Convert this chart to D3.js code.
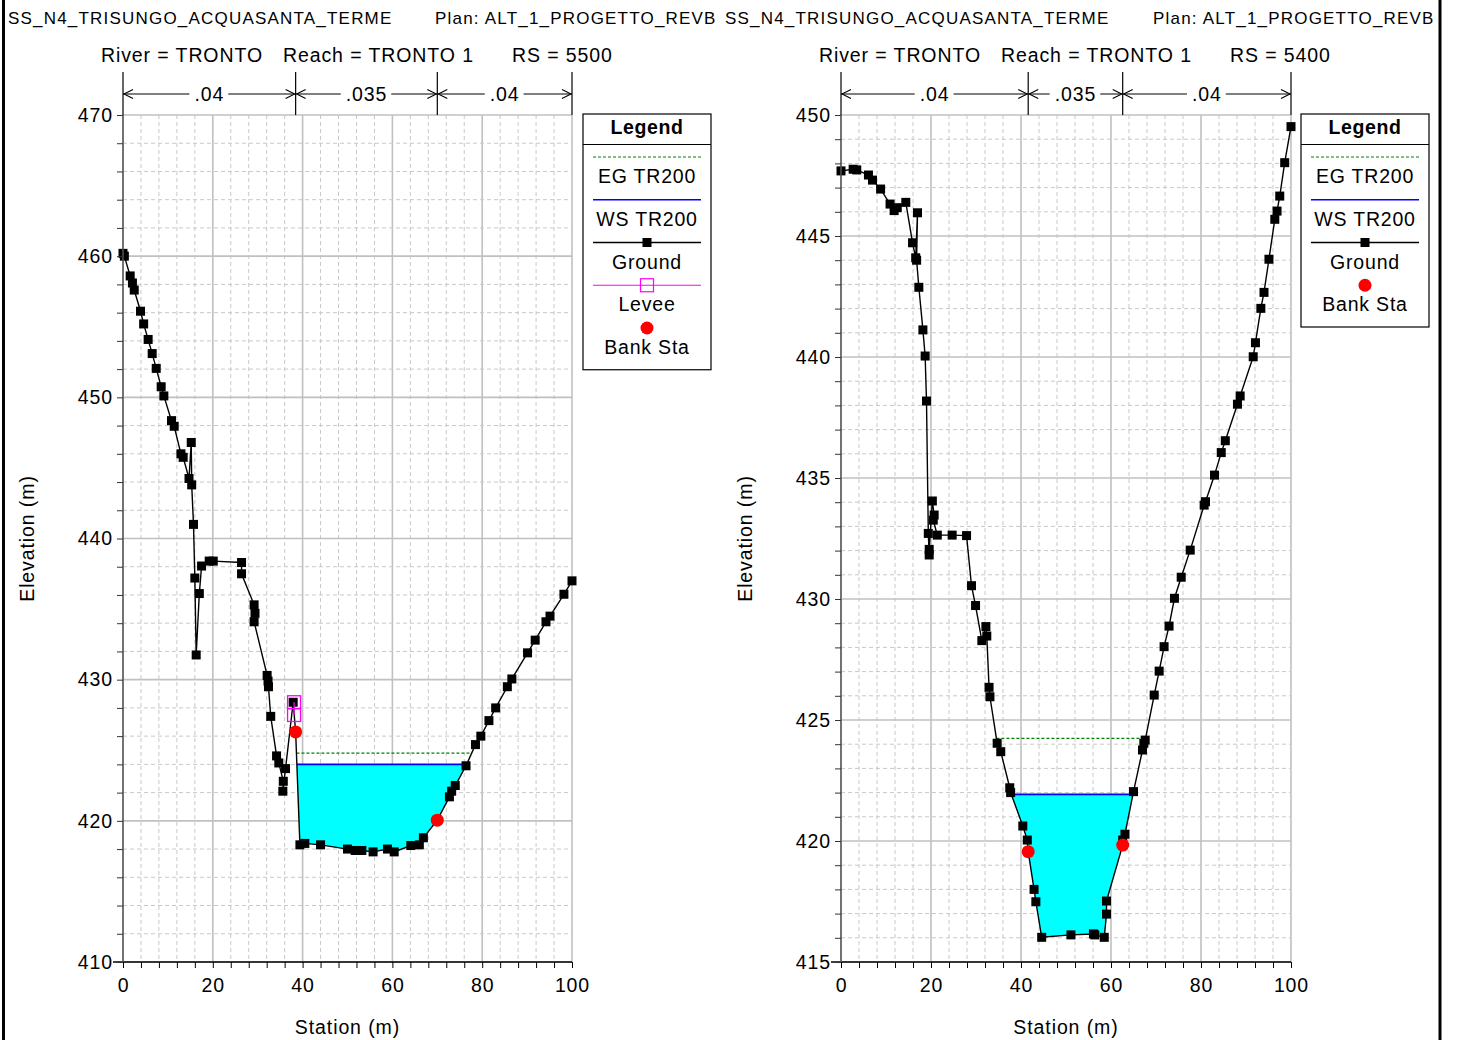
<!DOCTYPE html>
<html>
<head>
<meta charset="utf-8">
<script src="https://cdn.jsdelivr.net/npm/d3@7"></script>
<style>
  body { margin: 0; background: #fff; }
  svg text { font-family: "Liberation Sans", Arial, sans-serif; fill: #000; }
</style>
</head>
<body>
<svg id="chart" width="1457" height="1040"></svg>
<script>
// ---- Cross-section data (HEC-RAS, river TRONTO, reach TRONTO 1) ----
const projectName = "SS_N4_TRISUNGO_ACQUASANTA_TERME";
const planName = "Plan: ALT_1_PROGETTO_REVB";
const riverLabel = "River = TRONTO";
const reachLabel = "Reach = TRONTO 1";
const rsLabels = ["RS = 5500", "RS = 5400"];
const manningN = [".04", ".035", ".04"];
const stationTicks = [0, 20, 40, 60, 80, 100];
const elevTicks5500 = [410, 420, 430, 440, 450, 460, 470];
const elevTicks5400 = [415, 420, 425, 430, 435, 440, 445, 450];

// ground points [station, elevation]
const ground5500 = [
  [0.0,460.2],[0.3,460.0],[1.6,458.6],[2.1,458.1],[2.5,457.6],[3.9,456.1],[4.6,455.2],
  [5.6,454.1],[6.5,453.1],[7.4,452.05],[8.5,450.75],[9.1,450.1],[10.8,448.35],[11.4,447.95],
  [12.9,446.0],[13.4,445.75],[14.7,444.25],[15.2,446.8],[15.3,443.8],[15.7,441.0],[16.0,437.2],
  [16.3,431.75],[17.0,436.1],[17.5,438.05],[19.2,438.4],[20.1,438.4],[26.4,438.3],[26.4,437.5],
  [29.2,435.3],[29.4,434.7],[29.2,434.1],[32.1,430.3],[32.3,429.9],[32.4,429.5],[32.9,427.4],
  [34.2,424.6],[34.7,424.1],[35.7,422.8],[35.6,422.1],[36.2,423.7],[37.9,428.4],[38.45,426.3],
  [39.4,418.3],[40.5,418.4],[44.0,418.3],[50.0,418.0],[51.7,417.9],[53.2,417.9],[55.7,417.8],
  [58.9,418.0],[60.4,417.8],[64.1,418.25],[66.0,418.3],[66.9,418.8],[70.0,420.05],[72.7,421.7],
  [73.2,422.1],[74.0,422.5],[76.4,423.9],[78.5,425.4],[79.7,426.0],[81.5,427.1],[83.0,428.0],
  [85.6,429.5],[86.6,430.05],[90.1,431.9],[91.8,432.8],[94.2,434.1],[95.1,434.5],[98.2,436.05],
  [100.0,437.0]
];
const ground5400 = [
  [0.0,447.69],[2.7,447.76],[3.5,447.73],[6.1,447.52],[7.0,447.31],[8.8,446.94],[10.9,446.32],
  [11.8,446.05],[12.5,446.17],[14.4,446.39],[15.9,444.72],[16.6,444.1],[17.0,445.96],[16.8,444.0],
  [17.3,442.88],[18.2,441.12],[18.7,440.04],[19.0,438.18],[19.4,432.71],[19.6,431.82],[19.6,432.05],
  [20.3,434.05],[20.7,433.47],[20.5,433.26],[21.4,432.64],[24.7,432.64],[27.9,432.62],[29.0,430.55],
  [29.9,429.73],[31.3,428.28],[32.2,428.86],[32.4,428.47],[32.9,426.35],[33.1,425.96],[34.7,424.04],
  [35.5,423.69],[37.5,422.2],[37.7,422.0],[40.4,420.62],[41.4,420.04],[41.6,419.56],[42.9,418.0],
  [43.3,417.49],[44.6,416.02],[51.1,416.12],[56.1,416.16],[56.4,416.12],[58.5,416.02],[59.0,416.98],
  [59.0,417.52],[62.6,419.83],[62.6,420.04],[63.1,420.28],[65.0,422.04],[67.0,423.76],[67.3,424.04],
  [67.6,424.17],[69.6,426.03],[70.7,427.02],[71.8,428.03],[72.9,428.88],[74.1,430.03],[75.6,430.9],
  [77.6,432.02],[80.7,433.88],[81.0,434.02],[83.0,435.12],[84.5,436.05],[85.4,436.54],[88.1,438.05],
  [88.7,438.39],[91.6,440.01],[92.1,440.59],[93.3,442.01],[94.0,442.67],[95.1,444.04],[96.4,445.69],
  [96.9,446.03],[97.5,446.65],[98.6,448.03],[100.0,449.52]
];
const bankSta5500 = [[38.45, 426.3], [70.0, 420.05]];
const bankSta5400 = [[41.6, 419.56], [62.6, 419.83]];
const levee5500 = [[38.1, 428.4], [38.1, 427.5]];
const wsTR200 = [424.0, 421.93];
const egTR200 = [424.8, 424.24];

// ---- Drawing ----
const svg = d3.select("#chart");
const LS = "0.9px";
const FS = "19.5px";

svg.append("rect").attr("width", 1457).attr("height", 1040).attr("fill", "#fff");
// outer frame lines
svg.append("line").attr("x1", 3.5).attr("x2", 3.5).attr("y1", 0).attr("y2", 1040)
  .attr("stroke", "#000").attr("stroke-width", 3);
svg.append("line").attr("x1", 1440).attr("x2", 1440).attr("y1", 0).attr("y2", 1040)
  .attr("stroke", "#000").attr("stroke-width", 3);

const panels = [
  { left: 123, right: 572, top: 115, bottom: 962, yTicks: elevTicks5500, yMinor: 2,
    ground: ground5500, bank: bankSta5500, levee: levee5500, ws: wsTR200[0], eg: egTR200[0],
    rs: rsLabels[0], titleX: 8, planX: 435, riverX: 101, reachX: 283, rsX: 512,
    legendX: 583, yTitleX: 34 },
  { left: 841, right: 1291, top: 115, bottom: 962, yTicks: elevTicks5400, yMinor: 1,
    ground: ground5400, bank: bankSta5400, levee: null, ws: wsTR200[1], eg: egTR200[1],
    rs: rsLabels[1], titleX: 725, planX: 1153, riverX: 819, reachX: 1001, rsX: 1230,
    legendX: 1301, yTitleX: 752 }
];

// where a water level meets the ground on each side of the channel low point
function crossings(ground, level) {
  const iMin = d3.minIndex(ground, d => d[1]);
  let i = iMin;
  while (i > 0 && ground[i - 1][1] < level) i--;
  const a = ground[i - 1], b = ground[i];
  const xl = a[0] + (b[0] - a[0]) * (level - a[1]) / (b[1] - a[1]);
  let j = iMin;
  while (j < ground.length - 1 && ground[j + 1][1] < level) j++;
  const c = ground[j], d = ground[j + 1];
  const xr = c[0] + (d[0] - c[0]) * (level - c[1]) / (d[1] - c[1]);
  return { xl, xr, i, j };
}

function txt(g, x, y, s, size, opts = {}) {
  return g.append("text").attr("x", x).attr("y", y).text(s)
    .attr("font-size", size).attr("letter-spacing", opts.ls || LS)
    .attr("text-anchor", opts.anchor || "start")
    .attr("font-weight", opts.bold ? "bold" : null);
}

panels.forEach(p => {
  const g = svg.append("g");
  const x = d3.scaleLinear().domain([0, 100]).range([p.left, p.right]);
  const yd = d3.extent(p.yTicks);
  const y = d3.scaleLinear().domain(yd).range([p.bottom, p.top]);
  const majorY = p.yTicks[1] - p.yTicks[0];

  // titles
  txt(g, p.titleX, 24, projectName, "17px", { ls: "1.2px" });
  txt(g, p.planX, 24, planName, "17px", { ls: "1.2px" });
  txt(g, p.riverX, 62, riverLabel, FS);
  txt(g, p.reachX, 62, reachLabel, FS);
  txt(g, p.rsX, 62, p.rs, FS);

  // gridlines
  const grid = g.append("g");
  d3.range(0, 100.001, 4).forEach(v => {
    const major = Math.abs(v % 20) < 1e-6;
    grid.append("line").attr("x1", x(v)).attr("x2", x(v)).attr("y1", p.top).attr("y2", p.bottom)
      .attr("stroke", major ? "#c0c0c0" : "#c8c8c8").attr("stroke-width", major ? 1.6 : 1)
      .attr("stroke-dasharray", major ? null : "4,3");
  });
  d3.range(yd[0], yd[1] + 0.001, p.yMinor).forEach(v => {
    const major = Math.abs((v - yd[0]) % majorY) < 1e-6;
    grid.append("line").attr("x1", p.left).attr("x2", p.right).attr("y1", y(v)).attr("y2", y(v))
      .attr("stroke", major ? "#c0c0c0" : "#c8c8c8").attr("stroke-width", major ? 1.6 : 1)
      .attr("stroke-dasharray", major ? null : "4,3");
  });

  // water surface fill between ground crossings
  const w = crossings(p.ground, p.ws);
  const poly = [[w.xl, p.ws], ...p.ground.slice(w.i, w.j + 1), [w.xr, p.ws]];
  g.append("path").attr("d", d3.line().x(d => x(d[0])).y(d => y(d[1]))(poly) + "Z")
    .attr("fill", "#00ffff").attr("stroke", "none");

  // energy grade line
  const e = crossings(p.ground, p.eg);
  g.append("line").attr("x1", x(e.xl)).attr("x2", x(e.xr)).attr("y1", y(p.eg)).attr("y2", y(p.eg))
    .attr("stroke", "#008000").attr("stroke-width", 1.3).attr("stroke-dasharray", "3,2");
  // water surface line
  g.append("line").attr("x1", x(w.xl)).attr("x2", x(w.xr)).attr("y1", y(p.ws)).attr("y2", y(p.ws))
    .attr("stroke", "#0000ff").attr("stroke-width", 1.8);

  // ground line + markers
  g.append("path").attr("d", d3.line().x(d => x(d[0])).y(d => y(d[1]))(p.ground))
    .attr("fill", "none").attr("stroke", "#000").attr("stroke-width", 1.4);
  g.selectAll(".gpt").data(p.ground).enter().append("rect")
    .attr("x", d => x(d[0]) - 4.5).attr("y", d => y(d[1]) - 4.5)
    .attr("width", 9).attr("height", 9).attr("fill", "#000");

  // levee
  if (p.levee) {
    g.append("path").attr("d", d3.line().x(d => x(d[0])).y(d => y(d[1]))(p.levee))
      .attr("fill", "none").attr("stroke", "#ff00ff").attr("stroke-width", 1.3);
    g.selectAll(".lv").data(p.levee).enter().append("rect")
      .attr("x", d => x(d[0]) - 6.5).attr("y", d => y(d[1]) - 6.5)
      .attr("width", 13).attr("height", 13).attr("fill", "none")
      .attr("stroke", "#ff00ff").attr("stroke-width", 1.3);
  }

  // bank stations
  g.selectAll(".bk").data(p.bank).enter().append("circle")
    .attr("cx", d => x(d[0])).attr("cy", d => y(d[1])).attr("r", 6.5).attr("fill", "#ff0000");

  // axes
  const xAxis = d3.axisBottom(x).tickValues(d3.range(0, 100.001, 4)).tickSize(6).tickPadding(10)
    .tickFormat(d => (stationTicks.includes(d) ? d3.format("d")(d) : ""));
  const gx = g.append("g").attr("transform", `translate(0,${p.bottom})`).call(xAxis);
  gx.select(".domain").attr("stroke", "#000").attr("stroke-width", 1.5)
    .attr("d", `M${p.left - 10},0H${p.right}`);
  gx.selectAll(".tick line").attr("stroke", "#000");
  gx.selectAll("text").attr("font-size", FS).attr("letter-spacing", LS)
    .attr("font-family", "Liberation Sans, Arial, sans-serif").attr("fill", "#000");

  const yAxis = d3.axisLeft(y).tickValues(d3.range(yd[0], yd[1] + 0.001, p.yMinor)).tickSize(6)
    .tickPadding(4)
    .tickFormat(d => (p.yTicks.some(t => Math.abs(t - d) < 1e-6) ? d3.format("d")(d) : ""));
  const gy = g.append("g").attr("transform", `translate(${p.left},0)`).call(yAxis);
  gy.select(".domain").attr("stroke", "#555").attr("stroke-width", 1.5)
    .attr("d", `M0,${p.top}V${p.bottom}`);
  gy.selectAll(".tick line").attr("stroke", "#333");
  gy.selectAll("text").attr("font-size", FS).attr("letter-spacing", LS)
    .attr("font-family", "Liberation Sans, Arial, sans-serif").attr("fill", "#000");

  // axis titles
  txt(g, (p.left + p.right) / 2, 1034, "Station (m)", FS, { anchor: "middle" });
  g.append("text").attr("transform", `translate(${p.yTitleX},${(p.top + p.bottom) / 2}) rotate(-90)`)
    .attr("text-anchor", "middle").attr("font-size", FS).attr("letter-spacing", LS)
    .text("Elevation (m)");

  // Manning's n bands above the plot
  const dividers = [0, p.bank[0][0], p.bank[1][0], 100];
  const hdr = g.append("g");
  dividers.forEach(v => {
    hdr.append("line").attr("x1", x(v)).attr("x2", x(v)).attr("y1", 72).attr("y2", p.top)
      .attr("stroke", "#000").attr("stroke-width", 1.2);
  });
  const ay = 94;
  manningN.forEach((n, k) => {
    const x0 = x(dividers[k]), x1 = x(dividers[k + 1]);
    hdr.append("line").attr("x1", x0).attr("x2", x1).attr("y1", ay).attr("y2", ay)
      .attr("stroke", "#000").attr("stroke-width", 1.1);
    hdr.append("path").attr("d", `M${x0 + 10},${ay - 4.5}L${x0 + 1},${ay}L${x0 + 10},${ay + 4.5}`)
      .attr("fill", "none").attr("stroke", "#000").attr("stroke-width", 1.1);
    hdr.append("path").attr("d", `M${x1 - 10},${ay - 4.5}L${x1 - 1},${ay}L${x1 - 10},${ay + 4.5}`)
      .attr("fill", "none").attr("stroke", "#000").attr("stroke-width", 1.1);
  });
  // n-value labels on a white gap over the arrow lines
  manningN.forEach((n, k) => {
    const xm = (x(dividers[k]) + x(dividers[k + 1])) / 2;
    const bg = hdr.append("rect");
    const t = txt(hdr, xm, ay + 7, n, FS, { anchor: "middle" });
    const bb = t.node().getBBox();
    bg.attr("x", bb.x - 5).attr("y", ay - 3).attr("width", bb.width + 9).attr("height", 6)
      .attr("fill", "#fff");
  });

  // legend
  const lx = p.legendX, lw = 128, lg = g.append("g");
  const items = [
    { key: "eg", label: "EG TR200" },
    { key: "ws", label: "WS TR200" },
    { key: "ground", label: "Ground" }
  ];
  if (p.levee) items.push({ key: "levee", label: "Levee" });
  items.push({ key: "bank", label: "Bank Sta" });
  const lh = 145 + items.length * 42.75 + 11;
  lg.append("rect").attr("x", lx).attr("y", 114).attr("width", lw).attr("height", lh - 114)
    .attr("fill", "#fff").attr("stroke", "#000").attr("stroke-width", 1.2);
  lg.append("line").attr("x1", lx).attr("x2", lx + lw).attr("y1", 144.5).attr("y2", 144.5)
    .attr("stroke", "#000").attr("stroke-width", 1.2);
  txt(lg, lx + lw / 2, 134, "Legend", FS, { anchor: "middle", bold: true, ls: "0.6px" });
  items.forEach((it, k) => {
    const sy = 157 + k * 42.75, cx = lx + lw / 2;
    const l1 = lx + 10, l2 = lx + lw - 10;
    if (it.key === "eg") {
      lg.append("line").attr("x1", l1).attr("x2", l2).attr("y1", sy).attr("y2", sy)
        .attr("stroke", "#008000").attr("stroke-width", 1.2).attr("stroke-dasharray", "3,2");
    } else if (it.key === "ws") {
      lg.append("line").attr("x1", l1).attr("x2", l2).attr("y1", sy).attr("y2", sy)
        .attr("stroke", "#0000ff").attr("stroke-width", 1.4);
    } else if (it.key === "ground") {
      lg.append("line").attr("x1", l1).attr("x2", l2).attr("y1", sy).attr("y2", sy)
        .attr("stroke", "#000").attr("stroke-width", 1.4);
      lg.append("rect").attr("x", cx - 4.5).attr("y", sy - 4.5).attr("width", 9).attr("height", 9)
        .attr("fill", "#000");
    } else if (it.key === "levee") {
      lg.append("line").attr("x1", l1).attr("x2", l2).attr("y1", sy).attr("y2", sy)
        .attr("stroke", "#ff00ff").attr("stroke-width", 1.2);
      lg.append("rect").attr("x", cx - 6.5).attr("y", sy - 6.5).attr("width", 13).attr("height", 13)
        .attr("fill", "none").attr("stroke", "#ff00ff").attr("stroke-width", 1.2);
    } else {
      lg.append("circle").attr("cx", cx).attr("cy", sy).attr("r", 6.5).attr("fill", "#ff0000");
    }
    txt(lg, cx, sy + 26, it.label, FS, { anchor: "middle", ls: "0.8px" });
  });
});
</script>
</body>
</html>
